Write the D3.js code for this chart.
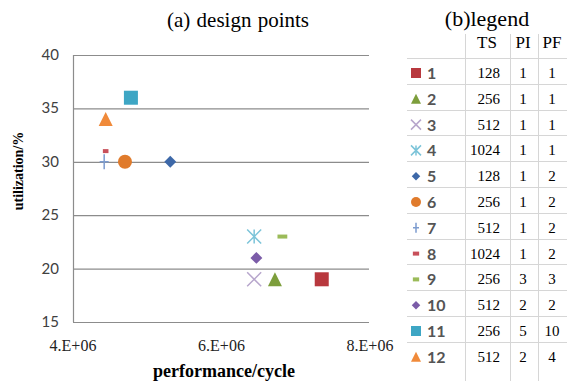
<!DOCTYPE html>
<html>
<head>
<meta charset="utf-8">
<script src="https://cdn.jsdelivr.net/npm/d3@7"></script>
<style>
  body { margin: 0; background: #fff; }
  svg { display: block; }
</style>
</head>
<body>
<svg id="chart" width="567" height="381"></svg>
<script>
// design point data
const pointIds = ["1", "2", "3", "4", "5", "6", "7", "8", "9", "10", "11", "12"];
const performance = [7.35e6, 6.72e6, 6.44e6, 6.44e6, 5.31e6, 4.70e6, 4.42e6, 4.44e6, 6.82e6, 6.47e6, 4.78e6, 4.44e6];
const utilization = [19, 19, 19, 23, 30, 30, 30, 31, 23, 21, 36, 34];
const tsValues = [128, 256, 512, 1024, 128, 256, 512, 1024, 256, 512, 256, 512];
const piValues = [1, 1, 1, 1, 1, 1, 1, 1, 3, 2, 5, 2];
const pfValues = [1, 1, 1, 1, 2, 2, 2, 2, 3, 2, 10, 4];
const xTicks = [4e6, 6e6, 8e6];
const xTickLabels = ["4.E+06", "6.E+06", "8.E+06"];
const yTicks = [15, 20, 25, 30, 35, 40];
const tableHeader = ["TS", "PI", "PF"];

// marker look per point
const shapes = ["square", "triangle", "x", "star", "diamond", "circle", "plus", "dash", "dash", "diamond", "square", "triangle"];
const colors = ["#b8383e", "#7d9e3c", "#b7a6cc", "#7cc4d9", "#3d68a8", "#e07b2c", "#7d9ccf", "#c8505a", "#9bbb59", "#7b5ca8", "#3ea6c4", "#f08a3a"];

const svg = d3.select("#chart");
const serif = "'Liberation Serif', 'Times New Roman', serif";
const sans = "Lato, 'DejaVu Sans', sans-serif";

const x = d3.scaleLinear().domain([4e6, 8e6]).range([73, 370]);
const y = d3.scaleLinear().domain([15, 40]).range([322, 55]);

// gridlines
svg.append("g").selectAll("line").data(yTicks).enter().append("line")
    .attr("x1", x(4e6)).attr("x2", x(8e6) - 1)
    .attr("y1", d => y(d) + 0.5).attr("y2", d => y(d) + 0.5)
    .attr("stroke", "#8c8c8c").attr("stroke-width", 1.2);
svg.append("line")
    .attr("x1", x(4e6) + 0.5).attr("x2", x(4e6) + 0.5)
    .attr("y1", y(40)).attr("y2", y(15))
    .attr("stroke", "#8c8c8c").attr("stroke-width", 1.2);

// y tick labels
svg.append("g").selectAll("text").data(yTicks).enter().append("text")
    .attr("x", 59).attr("y", d => y(d) + 5)
    .attr("text-anchor", "end")
    .style("font-family", sans).style("font-size", "15px").style("fill", "#404040")
    .text(d => d);

// x tick labels
svg.append("g").selectAll("text").data(xTicks).enter().append("text")
    .attr("x", d => x(d)).attr("y", 351)
    .attr("text-anchor", "middle")
    .style("font-family", serif).style("font-size", "16px").style("fill", "#222")
    .text((d, i) => xTickLabels[i]);

// titles
svg.append("text").attr("x", 238).attr("y", 27).attr("text-anchor", "middle")
    .style("font-family", serif).style("font-size", "21px").style("word-spacing", "1px").text("(a) design points");
svg.append("text").attr("x", 487).attr("y", 26).attr("text-anchor", "middle")
    .style("font-family", serif).style("font-size", "22px").text("(b)legend");
svg.append("text").attr("x", 224).attr("y", 377).attr("text-anchor", "middle")
    .style("font-family", serif).style("font-size", "18px").style("font-weight", "bold")
    .text("performance/cycle");
svg.append("text").attr("transform", "translate(23,171) rotate(-90)").attr("text-anchor", "middle")
    .style("font-family", serif).style("font-size", "14px").style("font-weight", "bold")
    .text("utilization/%");

// draw one marker at (cx, cy) with size s
function marker(g, shape, color, cx, cy, s) {
    const h = s / 2;
    const m = g.append("g").attr("transform", `translate(${cx},${cy})`);
    if (shape === "square") {
        m.append("rect").attr("x", -h).attr("y", -h).attr("width", s).attr("height", s).attr("fill", color);
    } else if (shape === "triangle") {
        m.append("path").attr("d", `M0,${-h}L${h},${h}L${-h},${h}Z`).attr("fill", color);
    } else if (shape === "diamond") {
        const d = h * 0.85;
        m.append("path").attr("d", `M0,${-d}L${d},0L0,${d}L${-d},0Z`).attr("fill", color);
    } else if (shape === "circle") {
        m.append("circle").attr("r", h).attr("fill", color);
    } else if (shape === "x") {
        m.append("path").attr("d", `M${-h},${-h}L${h},${h}M${h},${-h}L${-h},${h}`)
            .attr("stroke", color).attr("stroke-width", 1.5);
    } else if (shape === "star") {
        m.append("path").attr("d", `M${-h},${-h}L${h},${h}M${h},${-h}L${-h},${h}M0,${-h}L0,${h}`)
            .attr("stroke", color).attr("stroke-width", 1.5);
    } else if (shape === "plus") {
        m.append("path").attr("d", `M0,${-h}L0,${h}M${-h * 0.6},0L${h * 0.6},0`)
            .attr("stroke", color).attr("stroke-width", 1.5);
    } else if (shape === "dash") {
        m.append("rect").attr("x", -h * 0.7).attr("y", -2).attr("width", h * 1.4).attr("height", 4).attr("fill", color);
    }
}

// scatter points
const pts = svg.append("g");
pointIds.forEach((id, i) => {
    let s = 14;
    if (shapes[i] === "dash" && i === 7) s = 8;
    if (shapes[i] === "plus") s = 15;
    marker(pts, shapes[i], colors[i], x(performance[i]), y(utilization[i]), s);
});

// legend table
const rowTop = 58, rowH = 25.8;
const colLines = [465, 510, 538];
const table = svg.append("g");
table.selectAll("line.row").data(pointIds).enter().append("line")
    .attr("x1", 407).attr("x2", 567)
    .attr("y1", (d, i) => Math.round(rowTop + i * rowH) + 0.5).attr("y2", (d, i) => Math.round(rowTop + i * rowH) + 0.5)
    .attr("stroke", "#d6d6d6");
table.selectAll("line.col").data(colLines).enter().append("line")
    .attr("x1", d => d + 0.5).attr("x2", d => d + 0.5)
    .attr("y1", 34).attr("y2", 381)
    .attr("stroke", "#d6d6d6");

const headX = [487, 523, 552];
table.selectAll("text.head").data(tableHeader).enter().append("text")
    .attr("x", (d, i) => headX[i]).attr("y", 48).attr("text-anchor", "middle")
    .style("font-family", serif).style("font-size", "17px").text(d => d);

pointIds.forEach((id, i) => {
    const cy = rowTop + i * rowH + 15;
    let s = 10;
    if (shapes[i] === "dash") s = 9;
    marker(table, shapes[i], colors[i], 416, cy, s);
    table.append("text").attr("x", 427).attr("y", cy + 6)
        .style("font-family", sans).style("font-size", "16px").style("font-weight", "bold").style("fill", "#555")
        .text(id);
    table.append("text").attr("x", 500).attr("y", cy + 5).attr("text-anchor", "end")
        .style("font-family", serif).style("font-size", "15px").text(tsValues[i]);
    table.append("text").attr("x", 523).attr("y", cy + 5).attr("text-anchor", "middle")
        .style("font-family", serif).style("font-size", "15px").text(piValues[i]);
    table.append("text").attr("x", 552).attr("y", cy + 5).attr("text-anchor", "middle")
        .style("font-family", serif).style("font-size", "15px").text(pfValues[i]);
});
</script>
</body>
</html>
